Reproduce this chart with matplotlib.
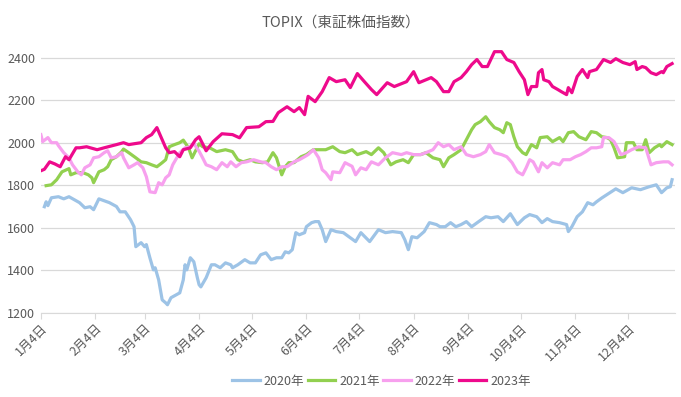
import matplotlib
matplotlib.use("Agg")
import matplotlib.pyplot as plt
import pandas as pd

plt.rcParams['font.family'] = ['Noto Sans CJK JP', 'DejaVu Sans']

# values (month-day, index level)
d2020 = ["01-06", "01-07", "01-08", "01-10", "01-14", "01-17", "01-20", "01-23", "01-26", "01-29",
         "02-01", "02-03", "02-06", "02-09", "02-12", "02-16", "02-18", "02-21", "02-24", "02-26",
         "02-27", "03-02", "03-04", "03-05", "03-07", "03-09", "03-10", "03-12", "03-14", "03-16",
         "03-17", "03-19", "03-22", "03-24", "03-26", "03-27", "03-28", "03-30", "04-01", "04-03",
         "04-04", "04-05", "04-08", "04-11", "04-13", "04-16", "04-19", "04-22", "04-23", "04-26",
         "04-30", "05-03", "05-06", "05-09", "05-12", "05-15", "05-18", "05-21", "05-23", "05-25",
         "05-27", "05-29", "05-31", "06-03", "06-04", "06-07", "06-09", "06-11", "06-13", "06-15",
         "06-18", "06-21", "06-25", "06-29", "07-02", "07-05", "07-10", "07-15", "07-19", "07-23",
         "07-28", "07-30", "08-01", "08-03", "08-06", "08-10", "08-13", "08-17", "08-19", "08-22",
         "08-25", "08-28", "08-31", "09-03", "09-06", "09-10", "09-14", "09-17", "09-21", "09-24",
         "09-28", "10-02", "10-06", "10-09", "10-13", "10-16", "10-19", "10-22", "10-26", "10-30",
         "10-31", "11-02", "11-05", "11-08", "11-11", "11-14", "11-16", "11-19", "11-27", "12-01",
         "12-06", "12-11", "12-16", "12-20", "12-23", "12-26", "12-28", "12-29"]
v2020 = [1699, 1722, 1704, 1741, 1746, 1736, 1746, 1732, 1718, 1694,
         1699, 1685, 1736, 1727, 1718, 1700, 1675, 1675, 1638, 1605,
         1511, 1530, 1511, 1521, 1459, 1402, 1412, 1355, 1261, 1247,
         1238, 1271, 1285, 1294, 1355, 1426, 1402, 1459, 1440, 1365,
         1332, 1322, 1365, 1426, 1426, 1412, 1435, 1426, 1412, 1426,
         1450, 1435, 1435, 1473, 1482, 1450, 1459, 1459, 1487, 1482,
         1497, 1577, 1567, 1577, 1605, 1624, 1629, 1629, 1591, 1535,
         1591, 1582, 1577, 1553, 1535, 1577, 1535, 1591, 1577, 1582,
         1577, 1544, 1497, 1558, 1553, 1582, 1624, 1615, 1605, 1605,
         1624, 1605, 1615, 1629, 1605, 1629, 1652, 1647, 1652, 1629,
         1666, 1615, 1647, 1662, 1652, 1624, 1643, 1629, 1624, 1615,
         1582, 1605, 1652, 1675, 1718, 1708, 1722, 1740, 1783, 1765,
         1788, 1779, 1793, 1802, 1765, 1788, 1793, 1826]

d2021 = ["01-07", "01-10", "01-13", "01-16", "01-20", "01-21", "01-24", "01-28", "01-31", "02-02",
         "02-03", "02-06", "02-09", "02-11", "02-13", "02-16", "02-19", "02-20", "02-23", "02-27",
         "03-02", "03-05", "03-08", "03-11", "03-14", "03-16", "03-18", "03-21", "03-24", "03-26",
         "03-29", "03-31", "04-04", "04-06", "04-10", "04-14", "04-19", "04-23", "04-26", "04-29",
         "05-03", "05-06", "05-10", "05-13", "05-16", "05-18", "05-21", "05-23", "05-25", "05-28",
         "06-01", "06-04", "06-08", "06-12", "06-15", "06-19", "06-23", "06-26", "06-30", "07-03",
         "07-08", "07-11", "07-15", "07-18", "07-22", "07-25", "07-29", "08-01", "08-04", "08-08",
         "08-11", "08-15", "08-19", "08-21", "08-24", "08-27", "08-31", "09-03", "09-06", "09-08",
         "09-11", "09-14", "09-16", "09-19", "09-22", "09-24", "09-26", "09-28", "09-30", "10-02",
         "10-05", "10-07", "10-10", "10-13", "10-15", "10-19", "10-22", "10-26", "10-28", "10-31",
         "11-03", "11-06", "11-10", "11-13", "11-16", "11-19", "11-22", "11-24", "11-26", "11-28",
         "12-02", "12-03", "12-07", "12-09", "12-12", "12-14", "12-16", "12-19", "12-22", "12-23",
         "12-26", "12-29"]
v2021 = [1798, 1802, 1826, 1863, 1878, 1849, 1859, 1859, 1849, 1835,
         1812, 1863, 1873, 1887, 1920, 1934, 1958, 1970, 1953, 1929,
         1910, 1906, 1896, 1887, 1906, 1920, 1981, 1991, 2000, 2012,
         1976, 1929, 1995, 1981, 1976, 1958, 1967, 1958, 1920, 1910,
         1920, 1910, 1906, 1910, 1953, 1929, 1849, 1887, 1906, 1906,
         1934, 1944, 1967, 1967, 1967, 1981, 1958, 1953, 1967, 1944,
         1958, 1944, 1976, 1953, 1896, 1910, 1920, 1906, 1944, 1944,
         1953, 1929, 1920, 1887, 1929, 1944, 1967, 2014, 2061, 2085,
         2099, 2122, 2099, 2071, 2061, 2047, 2094, 2085, 2028, 1981,
         1953, 1944, 1991, 1976, 2024, 2028, 2005, 2024, 2005, 2047,
         2052, 2028, 2014, 2052, 2047, 2028, 2024, 2014, 1976, 1929,
         1934, 2000, 2000, 1967, 1967, 2014, 1953, 1976, 1991, 1981,
         2005, 1991]

d2022 = ["01-04", "01-05", "01-08", "01-10", "01-13", "01-14", "01-17", "01-20", "01-22", "01-25",
         "01-27", "01-29", "02-01", "02-03", "02-06", "02-09", "02-11", "02-13", "02-16", "02-19",
         "02-20", "02-23", "02-26", "02-28", "03-03", "03-05", "03-07", "03-10", "03-12", "03-14",
         "03-16", "03-18", "03-20", "03-24", "03-27", "03-30", "04-01", "04-04", "04-06", "04-08",
         "04-11", "04-14", "04-17", "04-20", "04-22", "04-25", "04-28", "05-01", "05-05", "05-09",
         "05-12", "05-15", "05-18", "05-21", "05-24", "05-28", "05-31", "06-03", "06-05", "06-08",
         "06-11", "06-13", "06-15", "06-18", "06-19", "06-23", "06-26", "06-30", "07-02", "07-05",
         "07-08", "07-11", "07-15", "07-19", "07-23", "07-28", "07-31", "08-04", "08-08", "08-11",
         "08-15", "08-18", "08-21", "08-24", "08-27", "08-31", "09-03", "09-07", "09-11", "09-14",
         "09-16", "09-19", "09-23", "09-26", "09-29", "10-02", "10-05", "10-07", "10-09", "10-11",
         "10-14", "10-16", "10-19", "10-22", "10-26", "10-28", "11-01", "11-04", "11-07", "11-10",
         "11-13", "11-16", "11-19", "11-20", "11-23", "11-26", "11-30", "12-03", "12-06", "12-10",
         "12-14", "12-17", "12-20", "12-24", "12-27", "12-29"]
v2022 = [2038, 2005, 2024, 2000, 2000, 1986, 1953, 1929, 1896, 1863,
         1849, 1882, 1896, 1929, 1934, 1953, 1962, 1929, 1934, 1953,
         1929, 1882, 1896, 1906, 1882, 1840, 1769, 1765, 1812, 1802,
         1835, 1849, 1896, 1953, 1976, 1981, 1995, 1960, 1929, 1896,
         1887, 1873, 1906, 1887, 1910, 1887, 1906, 1910, 1920, 1910,
         1906, 1887, 1873, 1887, 1887, 1910, 1920, 1934, 1944, 1967,
         1929, 1873, 1859, 1826, 1863, 1859, 1906, 1889, 1849, 1882,
         1873, 1910, 1896, 1929, 1953, 1944, 1953, 1944, 1944, 1953,
         1967, 2000, 1981, 1991, 1967, 1981, 1944, 1934, 1944, 1958,
         1991, 1953, 1944, 1934, 1906, 1863, 1849, 1882, 1920, 1910,
         1863, 1906, 1882, 1906, 1896, 1920, 1920, 1934, 1944, 1958,
         1976, 1976, 1981, 2024, 2024, 2005, 1944, 1953, 1967, 1981,
         1976, 1896, 1906, 1910, 1910, 1896]

d2023 = ["01-04", "01-06", "01-09", "01-12", "01-15", "01-18", "01-20", "01-24", "01-26", "01-30",
         "02-05", "02-09", "02-16", "02-20", "02-23", "02-26", "03-02", "03-05", "03-08", "03-11",
         "03-14", "03-16", "03-18", "03-21", "03-24", "03-26", "03-30", "04-02", "04-04", "04-08",
         "04-12", "04-17", "04-23", "04-27", "05-01", "05-08", "05-12", "05-16", "05-19", "05-24",
         "05-28", "05-31", "06-03", "06-05", "06-09", "06-13", "06-17", "06-21", "06-26", "06-29",
         "07-03", "07-07", "07-11", "07-14", "07-20", "07-24", "07-31", "08-04", "08-07", "08-14",
         "08-17", "08-21", "08-24", "08-27", "08-31", "09-03", "09-06", "09-09", "09-12", "09-15",
         "09-19", "09-23", "09-26", "09-30", "10-03", "10-06", "10-08", "10-10", "10-13", "10-14",
         "10-16", "10-17", "10-20", "10-22", "10-25", "10-27", "10-30", "10-31", "11-02", "11-05",
         "11-08", "11-11", "11-12", "11-16", "11-20", "11-24", "11-27", "12-01", "12-05", "12-08",
         "12-09", "12-12", "12-14", "12-17", "12-20", "12-23", "12-24", "12-26", "12-29"]
v2023 = [1868, 1875, 1910, 1900, 1887, 1934, 1920, 1976, 1976, 1981,
         1967, 1976, 1991, 2000, 1991, 1995, 2000, 2024, 2038, 2071,
         2014, 1976, 1953, 1958, 1934, 1967, 1976, 2014, 2028, 1962,
         2005, 2042, 2038, 2023, 2071, 2075, 2099, 2100, 2141, 2169,
         2146, 2165, 2132, 2218, 2193, 2240, 2306, 2287, 2296, 2259,
         2325, 2287, 2250, 2226, 2282, 2264, 2287, 2334, 2282, 2306,
         2287, 2240, 2240, 2287, 2306, 2334, 2367, 2391, 2358, 2358,
         2428, 2428, 2391, 2377, 2334, 2296, 2226, 2264, 2264, 2329,
         2344, 2296, 2287, 2264, 2250, 2240, 2226, 2259, 2235, 2311,
         2344, 2306, 2334, 2344, 2391, 2377, 2395, 2377, 2367, 2381,
         2344, 2358, 2353, 2329, 2320, 2334, 2329, 2358, 2372]

series = [("2020年", d2020, v2020, "#9DC3E6"),
          ("2021年", d2021, v2021, "#92D050"),
          ("2022年", d2022, v2022, "#F7A0EE"),
          ("2023年", d2023, v2023, "#EE0A8C")]

tick_dates = ["01-04", "02-04", "03-04", "04-04", "05-04", "06-04",
              "07-04", "08-04", "09-04", "10-04", "11-04", "12-04"]
tick_labels = ["1月4日", "2月4日", "3月4日", "4月4日", "5月4日", "6月4日",
               "7月4日", "8月4日", "9月4日", "10月4日", "11月4日", "12月4日"]


def to_dates(md):
    # map month-day onto one common (non-leap) year
    return pd.to_datetime(["2001-" + s for s in md])


fig = plt.figure(figsize=(6.81, 3.97), dpi=100)
ax = fig.add_axes([0.060, 0.212, 0.931, 0.675])

for name, d, v, c in series:
    ax.plot(to_dates(d), v, color=c, linewidth=2.3, label=name,
            solid_joinstyle='round')

ax.set_ylim(1200, 2460)
ax.set_yticks(range(1200, 2401, 200))
ax.set_xlim(pd.Timestamp("2001-01-04"), pd.Timestamp("2001-12-30 14:00"))
ax.set_xticks(to_dates(tick_dates))
ax.set_xticklabels(tick_labels, rotation=45, ha='right', rotation_mode='anchor')

ax.grid(axis='y', color='#D9D9D9', linewidth=0.9)
ax.set_axisbelow(True)
for s in ['top', 'right', 'left']:
    ax.spines[s].set_visible(False)
ax.spines['bottom'].set_color('#D9D9D9')
ax.tick_params(axis='y', length=0, labelsize=9, colors='#595959', pad=4)
ax.tick_params(axis='x', length=4, color='#D9D9D9', labelsize=9,
               labelcolor='#595959', pad=2)

fig.text(0.5, 0.942, "TOPIX（東証株価指数）", ha='center', va='center',
         fontsize=10.5, color='#595959')

fig.legend(loc='center', bbox_to_anchor=(0.56, 0.04), ncol=4, frameon=False,
           fontsize=9, handlelength=2.2, columnspacing=0.3, handletextpad=0.3,
           labelcolor='#595959')

fig.savefig("out.png", dpi=100)
